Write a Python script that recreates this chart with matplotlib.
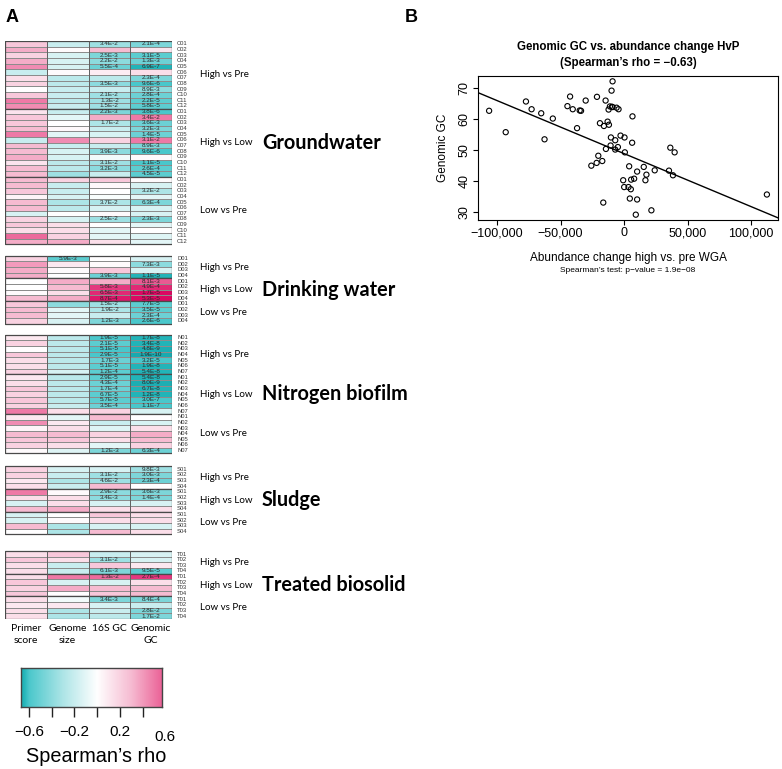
import numpy as np
import matplotlib
matplotlib.use("Agg")
import matplotlib.pyplot as plt
from matplotlib import transforms
from matplotlib.colors import LinearSegmentedColormap, Normalize
from matplotlib.patches import Rectangle

# ---------- heatmap data (Spearman's rho, columns: primer score, genome size, 16S GC, genomic GC)
columns = ["Primer\nscore", "Genome\nsize", "16S GC", "Genomic\nGC"]
comparisons = ["High vs Pre", "High vs Low", "Low vs Pre"]
datasets = ["Groundwater", "Drinking water", "Nitrogen biofilm", "Sludge", "Treated biosolid"]
prefixes = ["C", "D", "N", "S", "T"]

gw_hvp = [[0.25, -0.20, -0.35, -0.45], [0.35, 0.02, 0.30, 0.12], [0.20, -0.15, -0.45, -0.55],
          [0.35, -0.15, -0.40, -0.50], [0.45, -0.15, -0.50, -0.65], [-0.20, 0.02, 0.08, 0.15],
          [0.15, -0.25, -0.25, -0.45], [0.20, -0.25, -0.40, -0.60], [0.00, -0.20, -0.20, -0.40],
          [0.25, -0.20, -0.35, -0.50], [0.50, -0.25, -0.35, -0.55], [0.45, -0.20, -0.35, -0.55]]
gw_hvl = [[0.12, -0.20, -0.45, -0.60], [0.25, -0.10, 0.35, 0.50], [0.25, 0.00, -0.30, -0.50],
          [0.30, 0.03, -0.20, -0.45], [0.50, -0.10, -0.15, -0.50], [-0.20, 0.45, 0.20, 0.50],
          [0.30, -0.20, -0.20, -0.45], [0.30, -0.15, -0.40, -0.60], [0.35, -0.15, -0.05, 0.02],
          [0.12, -0.25, -0.35, -0.60], [0.30, -0.25, -0.40, -0.55], [0.30, -0.35, -0.20, -0.55]]
gw_lvp = [[0.30, 0.20, 0.25, 0.02], [0.30, -0.20, 0.03, -0.15], [0.25, -0.20, 0.00, -0.30],
          [0.05, -0.15, -0.02, -0.10], [0.30, -0.30, -0.30, -0.45], [0.30, -0.25, -0.15, -0.15],
          [-0.15, 0.00, 0.02, -0.15], [0.20, -0.15, -0.35, -0.45], [0.25, 0.15, 0.00, -0.10],
          [0.15, 0.15, -0.10, 0.00], [0.55, 0.20, -0.10, -0.12], [0.35, 0.35, 0.15, -0.10]]
dw_hvp = [[0.20, -0.55, 0.00, -0.15], [0.40, 0.10, 0.02, -0.40], [0.35, 0.02, 0.25, -0.15],
          [0.35, 0.00, -0.50, -0.65]]
dw_hvl = [[0.00, 0.35, 0.35, 0.60], [0.00, 0.30, 0.70, 0.75], [0.02, 0.15, 0.75, 0.85],
          [0.30, 0.35, 0.80, 0.85]]
dw_lvp = [[0.25, -0.40, -0.35, -0.55], [0.30, -0.10, -0.30, -0.55], [0.30, -0.10, -0.20, -0.50],
          [0.20, -0.15, -0.45, -0.60]]
nb_hvp = [[0.10, -0.25, -0.60, -0.65], [0.20, -0.25, -0.55, -0.65], [0.00, -0.25, -0.60, -0.70],
          [0.25, -0.25, -0.60, -0.75], [0.15, -0.25, -0.50, -0.60], [0.15, -0.25, -0.55, -0.65],
          [0.20, -0.15, -0.55, -0.65]]
nb_hvl = [[0.10, -0.25, -0.55, -0.65], [0.15, -0.25, -0.50, -0.70], [0.25, -0.25, -0.50, -0.65],
          [0.20, -0.25, -0.55, -0.65], [0.25, -0.25, -0.55, -0.60], [0.20, -0.20, -0.50, -0.60],
          [0.50, 0.15, 0.20, -0.15]]
nb_lvp = [[0.10, -0.10, 0.30, 0.00], [0.45, 0.10, -0.20, -0.15], [0.05, 0.15, -0.12, 0.15],
          [0.30, 0.30, 0.20, 0.35], [0.25, 0.25, 0.15, 0.30], [0.20, 0.15, -0.10, 0.20],
          [0.02, -0.12, -0.45, -0.50]]
sl_hvp = [[0.20, -0.15, -0.15, -0.35], [0.20, -0.20, -0.35, -0.45], [0.10, -0.30, -0.35, -0.50],
          [0.15, -0.20, 0.30, 0.00]]
sl_hvl = [[0.50, 0.02, -0.40, -0.45], [0.15, 0.15, -0.40, -0.45], [-0.15, 0.15, -0.15, -0.15],
          [0.30, 0.35, 0.15, 0.15]]
sl_lvp = [[-0.15, 0.00, 0.25, 0.15], [-0.15, 0.02, 0.15, 0.15], [0.30, -0.30, -0.15, -0.15],
          [0.00, -0.30, 0.30, 0.15]]
tb_hvp = [[0.15, 0.25, -0.20, -0.15], [0.25, 0.15, -0.35, -0.15], [0.15, -0.20, 0.25, 0.10],
          [0.15, -0.20, -0.45, -0.55]]
tb_hvl = [[0.15, 0.50, 0.55, 0.70], [0.25, -0.15, -0.15, 0.15], [0.20, 0.35, 0.30, 0.30],
          [0.25, 0.00, 0.25, 0.30]]
tb_lvp = [[0.15, -0.05, -0.45, -0.45], [0.10, 0.10, -0.15, -0.20], [0.15, -0.30, -0.20, -0.45],
          [0.15, -0.30, -0.25, -0.45]]

# p-values shown in cells: (row, column, text)
gw_hvp_p = [(0, 2, "3.4E-2"), (0, 3, "2.1E-4"), (2, 2, "2.5E-3"), (2, 3, "3.1E-5"), (3, 2, "2.2E-2"),
            (3, 3, "1.3E-3"), (4, 2, "5.5E-4"), (4, 3, "6.9E-7"), (6, 3, "2.3E-4"), (7, 2, "3.5E-3"),
            (7, 3, "9.6E-6"), (8, 3, "8.9E-3"), (9, 2, "2.1E-2"), (9, 3, "2.8E-4"), (10, 2, "1.3E-2"),
            (10, 3, "2.2E-5"), (11, 2, "1.5E-2"), (11, 3, "5.8E-5")]
gw_hvl_p = [(0, 2, "2.2E-3"), (0, 3, "3.8E-6"), (1, 3, "3.4E-2"), (2, 2, "1.7E-2"), (2, 3, "3.6E-3"),
            (3, 3, "3.2E-3"), (4, 3, "1.4E-5"), (5, 3, "3.1E-2"), (6, 3, "8.9E-3"), (7, 2, "3.9E-3"),
            (7, 3, "9.6E-6"), (9, 2, "3.1E-2"), (9, 3, "1.1E-5"), (10, 2, "3.2E-3"), (10, 3, "2.6E-4"),
            (11, 3, "4.5E-5")]
gw_lvp_p = [(2, 3, "3.2E-2"), (4, 2, "3.7E-2"), (4, 3, "6.3E-4"), (7, 2, "2.5E-2"), (7, 3, "2.3E-3")]
dw_hvp_p = [(0, 1, "5.9E-3"), (1, 3, "7.3E-3"), (3, 2, "3.9E-3"), (3, 3, "1.1E-5")]
dw_hvl_p = [(0, 3, "8.1E-3"), (1, 2, "5.8E-3"), (1, 3, "4.9E-4"), (2, 2, "6.5E-3"), (2, 3, "1.7E-5"),
            (3, 2, "8.7E-4"), (3, 3, "5.3E-5")]
dw_lvp_p = [(0, 2, "1.5E-2"), (0, 3, "7.7E-5"), (1, 2, "1.9E-2"), (1, 3, "3.5E-5"), (2, 3, "2.3E-4"),
            (3, 2, "1.2E-3"), (3, 3, "2.6E-6")]
nb_hvp_p = [(0, 2, "1.9E-5"), (0, 3, "1.7E-8"), (1, 2, "2.1E-5"), (1, 3, "3.4E-8"), (2, 2, "5.1E-5"),
            (2, 3, "4.8E-9"), (3, 2, "2.9E-5"), (3, 3, "1.9E-10"), (4, 2, "1.7E-3"), (4, 3, "3.2E-5"),
            (5, 2, "5.1E-5"), (5, 3, "1.9E-8"), (6, 2, "1.2E-4"), (6, 3, "5.4E-8")]
nb_hvl_p = [(0, 2, "2.9E-5"), (0, 3, "5.4E-8"), (1, 2, "4.3E-4"), (1, 3, "8.0E-9"), (2, 2, "1.7E-4"),
            (2, 3, "6.7E-8"), (3, 2, "6.7E-5"), (3, 3, "1.2E-8"), (4, 2, "5.7E-5"), (4, 3, "3.0E-7"),
            (5, 2, "3.5E-4"), (5, 3, "1.1E-7")]
nb_lvp_p = [(6, 2, "1.2E-3"), (6, 3, "6.3E-4")]
sl_hvp_p = [(0, 3, "9.8E-3"), (1, 2, "3.1E-2"), (1, 3, "3.0E-3"), (2, 2, "4.6E-2"), (2, 3, "2.3E-4")]
sl_hvl_p = [(0, 2, "2.9E-2"), (0, 3, "3.6E-3"), (1, 2, "3.4E-3"), (1, 3, "1.4E-4")]
sl_lvp_p = []
tb_hvp_p = [(1, 2, "3.1E-2"), (3, 2, "6.1E-3"), (3, 3, "9.5E-5")]
tb_hvl_p = [(0, 2, "1.3E-2"), (0, 3, "2.7E-4")]
tb_lvp_p = [(0, 2, "3.4E-3"), (0, 3, "8.4E-4"), (2, 3, "2.8E-2"), (3, 3, "1.7E-2")]

blocks = [
    [(gw_hvp, gw_hvp_p), (gw_hvl, gw_hvl_p), (gw_lvp, gw_lvp_p)],
    [(dw_hvp, dw_hvp_p), (dw_hvl, dw_hvl_p), (dw_lvp, dw_lvp_p)],
    [(nb_hvp, nb_hvp_p), (nb_hvl, nb_hvl_p), (nb_lvp, nb_lvp_p)],
    [(sl_hvp, sl_hvp_p), (sl_hvl, sl_hvl_p), (sl_lvp, sl_lvp_p)],
    [(tb_hvp, tb_hvp_p), (tb_hvl, tb_hvl_p), (tb_lvp, tb_lvp_p)],
]

# ---------- scatter data (panel B)
abund = [-106270, -93200, -77260, -72800, -65230, -62620, -56090, -44580, -42490, -40400,
         -37000, -34920, -33870, -30210, -25760, -21580, -21320, -20270, -18970, -17140,
         -16350, -15830, -14520, -14260, -12950, -11910, -12170, -11130, -10340, -10600,
         -9820, -9030, -9030, -9550, -6940, -6940, -5890, -4850, -4330, -2760,
         -670, 110, 640, 380, 3510, 4040, 4560, 5340, 5600, 6390,
         6650, 7960, 9260, 10310, 10310, 15540, 16840, 17630, 21550, 24160,
         35400, 36450, 38540, 39850, 112520]
gc = [62.6, 55.7, 65.6, 63.1, 61.8, 53.4, 60.1, 64.1, 67.2, 63.1,
      57.0, 62.7, 62.6, 65.9, 44.9, 45.8, 67.1, 48.1, 58.6, 46.4,
      33.0, 57.7, 65.9, 50.3, 59.1, 58.1, 63.0, 64.0, 54.0, 51.4,
      69.1, 72.1, 63.8, 63.9, 53.1, 50.1, 63.6, 50.9, 63.1, 54.6,
      40.2, 38.0, 49.2, 54.0, 38.0, 44.7, 34.3, 37.3, 40.4, 52.3,
      60.8, 40.7, 29.1, 43.0, 34.0, 44.5, 40.2, 42.0, 30.5, 43.4,
      43.3, 50.7, 41.8, 49.2, 35.6]
# regression line as drawn in the original
fit_intercept = 48.8
fit_slope = -1.709e-4

W, H = 782, 769
fig = plt.figure(figsize=(W / 100, H / 100), dpi=100)

cmap = LinearSegmentedColormap.from_list("rho", [
    (0.0, "#0E9FA6"), (0.1176, "#22B4B8"), (0.1471, "#4CC8CC"), (0.3235, "#AEE5E7"),
    (0.5, "#FFFFFF"), (0.6765, "#F6BCD2"), (0.8235, "#EC6A9C"), (1.0, "#DC0862")])
norm = Normalize(-0.85, 0.85)

# ---------- panel A: heatmap
gaps = [2, 2, 2.3, 3]
total = sum(len(b[0][0]) * 3 for b in blocks) + sum(gaps)
ax = fig.add_axes([5 / W, 1 - 619 / H, 167 / W, 578 / H])
ax.set_xlim(0, 4)
ax.set_ylim(total, 0)
ax.axis("off")
tr = transforms.blended_transform_factory(fig.transFigure, ax.transData)

y0 = 0
for d, (name, pre, dblocks) in enumerate(zip(datasets, prefixes, blocks)):
    start = y0
    for comp, (vals, pvals) in zip(comparisons, dblocks):
        vals = np.array(vals)
        n = len(vals)
        ax.pcolormesh(np.arange(5), y0 + np.arange(n + 1), vals, cmap=cmap, norm=norm,
                      edgecolors="#8c8c8c", linewidth=0.4)
        for x in [1, 2, 3]:
            ax.plot([x, x], [y0, y0 + n], color="#5a5a5a", lw=0.6)
        ax.add_patch(Rectangle((0, y0), 4, n, fill=False, ec="#4a4a4a", lw=0.9))
        for r, c, t in pvals:
            ax.text(c + 0.5, y0 + r + 0.5, t, ha="center", va="center", fontsize=4.6,
                    color="#2a2a2a", family="Liberation Sans")
        for i in range(n):
            ax.text(177 / W, y0 + i + 0.5, f"{pre}{i + 1:02d}", transform=tr, fontsize=4.2,
                    va="center", ha="left", color="#333333", family="Liberation Sans")
        ax.text(200 / W, y0 + n / 2, comp, transform=tr, fontsize=7, va="center", ha="left",
                family="Lato")
        y0 += n
    ax.text(262 / W, (start + y0) / 2, name, transform=tr, fontsize=14.3, fontweight="bold",
            va="center", ha="left", family="Lato")
    if d < len(gaps):
        y0 += gaps[d]

for i, lab in enumerate(columns):
    fig.text((5 + 41.6 * (i + 0.5)) / W, 1 - 624 / H, lab, ha="center", va="top",
             fontsize=7.5, family="Lato", linespacing=1.4)

# colorbar
cax = fig.add_axes([21 / W, 1 - 707 / H, 141 / W, 39 / H])
grad = np.linspace(-0.67, 0.57, 256)[None, :]
cax.imshow(grad, aspect="auto", cmap=cmap, norm=norm, extent=(-0.67, 0.57, 0, 1))
cax.set_xlim(-0.67, 0.57)
cax.set_yticks([])
cax.set_xticks([-0.6, -0.4, -0.2, 0, 0.2, 0.4])
cax.set_xticklabels(["\u22120.6", "", "\u22120.2", "", "0.2", ""], family="Liberation Sans")
cax.tick_params(axis="x", length=7, width=1, labelsize=11, pad=6, color="#222222")
cax.text(0.6, -0.77, "0.6", transform=cax.get_xaxis_transform(), ha="center", va="center",
         fontsize=11, family="Liberation Sans")
for s in cax.spines.values():
    s.set_color("#444444")
    s.set_linewidth(1)
fig.text(96 / W, 1 - 757 / H, "Spearman\u2019s rho", ha="center", va="center", fontsize=14.3,
         family="Liberation Sans")

# ---------- panel B: scatter
ax2 = fig.add_axes([478 / W, 1 - 220 / H, 300 / W, 144 / H])
ax2.scatter(abund, gc, s=14, facecolors="none", edgecolors="black", linewidths=0.8)
ax2.axline((0, fit_intercept), slope=fit_slope, color="black", lw=1)
xr = max(abund) - min(abund)
yr = max(gc) - min(gc)
ax2.set_xlim(min(abund) - 0.04 * xr, max(abund) + 0.04 * xr)
ax2.set_ylim(min(gc) - 0.04 * yr, max(gc) + 0.04 * yr)
xt = [-100000, -50000, 0, 50000, 100000]
ax2.set_xticks(xt)
ax2.set_xticklabels([f"{v:,}".replace("-", "\u2212") for v in xt], family="Liberation Sans")
ax2.set_yticks([30, 40, 50, 60, 70])
ax2.set_yticklabels(["30", "40", "50", "60", "70"], rotation=90, va="center",
                    family="Liberation Sans")
ax2.tick_params(length=3.5, width=0.8, labelsize=9, pad=1.8)
for s in ax2.spines.values():
    s.set_linewidth(0.8)

cx = 628 / W
fig.text(cx, 1 - 47 / H, "Genomic GC vs. abundance change HvP", ha="center", va="center",
         fontsize=8.3, fontweight="bold", family="Liberation Sans")
fig.text(cx, 1 - 63 / H, "(Spearman\u2019s rho = \u22120.63)", ha="center", va="center",
         fontsize=8.3, fontweight="bold", family="Liberation Sans")
fig.text(443 / W, 1 - 148 / H, "Genomic GC", rotation=90, ha="center", va="center",
         fontsize=8.5, family="Liberation Sans")
fig.text(cx, 1 - 258 / H, "Abundance change high vs. pre WGA", ha="center", va="center",
         fontsize=8.5, family="Liberation Sans")
fig.text(cx, 1 - 270 / H, "Spearman\u2019s test: p\u2212value = 1.9e\u221208", ha="center",
         va="center", fontsize=6, family="Liberation Sans")

fig.text(12 / W, 1 - 17 / H, "A", ha="center", va="center", fontsize=13, fontweight="bold",
         family="Liberation Sans")
fig.text(411 / W, 1 - 17 / H, "B", ha="center", va="center", fontsize=13, fontweight="bold",
         family="Liberation Sans")

fig.savefig("out.png", dpi=100)
